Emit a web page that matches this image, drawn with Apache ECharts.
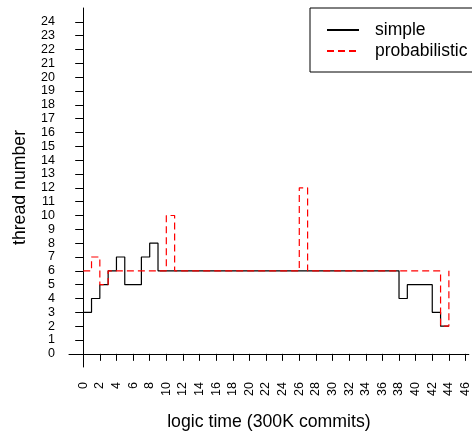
<!DOCTYPE html>
<html>
<head>
<meta charset="utf-8">
<script src="https://cdn.jsdelivr.net/npm/echarts@6/dist/echarts.min.js"></script>
<style>html,body{margin:0;padding:0;background:#fff}#c{width:472px;height:436px}</style>
</head>
<body>
<div id="c"></div>
<script>
// logic time (300K commits), one step per unit
var times = [0,1,2,3,4,5,6,7,8,9,10,11,12,13,14,15,16,17,18,19,20,21,22,23,24,25,26,27,28,29,30,31,32,33,34,35,36,37,38,39,40,41,42,43,44];
var simple = [3,4,5,6,7,5,5,7,8,6,6,6,6,6,6,6,6,6,6,6,6,6,6,6,6,6,6,6,6,6,6,6,6,6,6,6,6,6,4,5,5,5,3,2,2];
var probabilistic = [6,7,5,6,6,6,6,6,6,6,10,6,6,6,6,6,6,6,6,6,6,6,6,6,6,6,12,6,6,6,6,6,6,6,6,6,6,6,6,6,6,6,6,2,6];
var xTicks = [0,2,4,6,8,10,12,14,16,18,20,22,24,26,28,30,32,34,36,38,40,42,44,46];
var yTicks = [0,1,2,3,4,5,6,7,8,9,10,11,12,13,14,15,16,17,18,19,20,21,22,23,24];

function pairs(xs, ys){ return xs.map(function(x,i){ return [x, ys[i]]; }); }

var font = 'Liberation Sans, Arial, Helvetica, sans-serif';
var chart = echarts.init(document.getElementById('c'), null, {renderer:'canvas'});
chart.setOption({
  animation: false,
  backgroundColor: '#fff',
  textStyle: {fontFamily: font},
  grid: {left: 69, top: 8, right: 0, bottom: 64, containLabel: false},
  legend: {
    orient: 'vertical', left: 310, top: 8,
    padding: [12, 120, 11, 16], itemGap: 1,
    itemWidth: 32, itemHeight: 14,
    borderColor: '#000', borderWidth: 1,
    itemStyle: {opacity: 0},
    textStyle: {fontSize: 17.5, lineHeight: 20, color: '#000', fontFamily: font, padding: [0,0,0,11]},
    data: ['simple', 'probabilistic']
  },
  xAxis: {
    type: 'value', min: -1.71, max: 46.4,
    name: 'logic time (300K commits)', nameLocation: 'middle', nameGap: 46,
    nameTextStyle: {fontSize: 17.7, color: '#000', fontFamily: font},
    splitLine: {show: false},
    axisLine: {show: true, lineStyle: {color: '#000', width: 1}},
    axisTick: {show: true, length: 7, customValues: xTicks, lineStyle: {color: '#000'}},
    axisLabel: {customValues: xTicks, rotate: 90, fontSize: 12.5, color: '#000', margin: 15, fontFamily: font}
  },
  yAxis: {
    type: 'value', min: -0.95, max: 25.0,
    name: 'thread number', nameLocation: 'middle', nameGap: 40,
    nameTextStyle: {fontSize: 17.7, color: '#000', fontFamily: font},
    splitLine: {show: false},
    axisLine: {show: true, lineStyle: {color: '#000', width: 1}},
    axisTick: {show: true, length: 8, customValues: yTicks, lineStyle: {color: '#000'}},
    axisLabel: {customValues: yTicks, fontSize: 12.5, color: '#000', margin: 14, fontFamily: font}
  },
  series: [
    {name: 'simple', type: 'line', step: 'end', symbol: 'none',
     data: pairs(times, simple), color: '#000',
     lineStyle: {color: '#000', width: 1.2}},
    {name: 'probabilistic', type: 'line', step: 'end', symbol: 'none',
     data: pairs(times, probabilistic), color: '#ff0000',
     lineStyle: {color: '#ff0000', width: 1.2, type: [7,4]}}
  ]
});
</script>
</body>
</html>
